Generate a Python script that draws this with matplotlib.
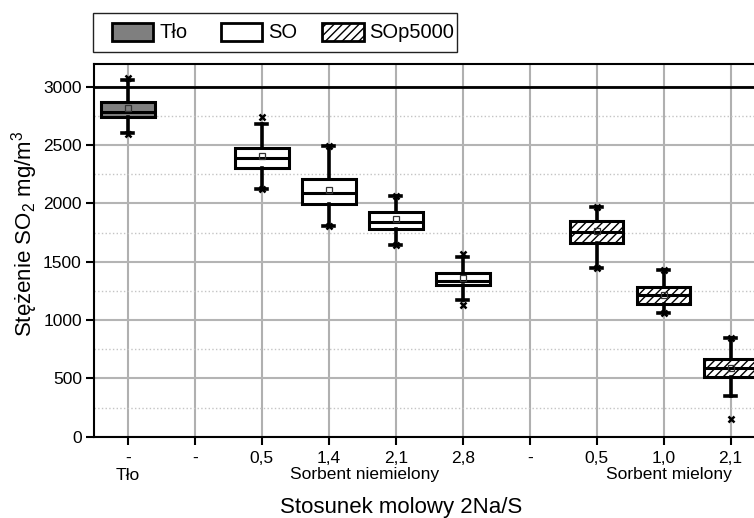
import matplotlib
matplotlib.use("Agg")
import matplotlib.pyplot as plt
from matplotlib.patches import Rectangle
from matplotlib.ticker import MultipleLocator

plt.rcParams['font.family'] = ['Liberation Sans', 'DejaVu Sans']
plt.rcParams['mathtext.fontset'] = 'custom'
plt.rcParams['mathtext.rm'] = 'Liberation Sans'
plt.rcParams['mathtext.it'] = 'Liberation Sans'
plt.rcParams['mathtext.default'] = 'regular'
plt.rcParams['hatch.linewidth'] = 1.0

# ---------------- data ----------------
tick_labels = ['-', '-', '0,5', '1,4', '2,1', '2,8', '-', '0,5', '1,0', '2,1']
group_labels = ['Tło', 'Sorbent niemielony', 'Sorbent mielony']
group_centers = [0, 3.53, 8.08]
series_names = ['Tło', 'SO', 'SOp5000']
positions = [0, 2, 3, 4, 5, 7, 8, 9]
series = ['Tło', 'SO', 'SO', 'SO', 'SO', 'SOp5000', 'SOp5000', 'SOp5000']
q1 = [2740, 2305, 1995, 1780, 1297, 1664, 1138, 514]
med = [2780, 2386, 2092, 1838, 1334, 1755, 1215, 592]
q3 = [2872, 2472, 2206, 1923, 1400, 1846, 1285, 666]
mean = [2815, 2406, 2115, 1863, 1357, 1760, 1215, 592]
whislo = [2603, 2125, 1808, 1643, 1170, 1443, 1057, 350]
whishi = [3060, 2680, 2495, 2066, 1543, 1972, 1429, 849]
vmin = [2598, 2125, 1808, 1643, 1127, 1443, 1057, 150]
vmax = [3075, 2742, 2495, 2066, 1566, 1972, 1429, 849]
limit = 3000

# ---------------- styles ----------------
face = {'Tło': '#7f7f7f', 'SO': 'white', 'SOp5000': 'white'}
hatch = {'Tło': None, 'SO': None, 'SOp5000': '////'}

W, H = 754, 518
fig = plt.figure(figsize=(W / 100, H / 100), dpi=100)
ax_l, ax_r, ax_t, ax_b = 94.3, 754, 64, 436.7
ax = fig.add_axes([ax_l / W, (H - ax_b) / H, (ax_r - ax_l) / W, (ax_b - ax_t) / H])

stats = []
for i in range(len(positions)):
    stats.append(dict(q1=q1[i], med=med[i], q3=q3[i], mean=mean[i],
                      whislo=whislo[i], whishi=whishi[i],
                      fliers=[vmin[i], vmax[i]]))

bp = ax.bxp(stats, positions=positions, widths=0.8, patch_artist=True,
            showmeans=True, capwidths=0.16,
            boxprops=dict(linewidth=2.2, edgecolor='black'),
            medianprops=dict(color='black', linewidth=2.2),
            whiskerprops=dict(color='black', linewidth=2.6),
            capprops=dict(color='black', linewidth=2.6),
            flierprops=dict(marker='x', markersize=5, markeredgewidth=1.8,
                            markeredgecolor='black'),
            meanprops=dict(marker='s', markersize=4, markerfacecolor='none',
                           markeredgecolor='#333333', markeredgewidth=0.9))
for box, s in zip(bp['boxes'], series):
    box.set_facecolor(face[s])
    if hatch[s]:
        box.set_hatch(hatch[s])
for z in bp['boxes']:
    z.set_zorder(3)
for k in ('medians', 'whiskers', 'caps', 'fliers', 'means'):
    for a in bp[k]:
        a.set_zorder(4)

ax.axhline(limit, color='black', linewidth=2, zorder=2.5)

ax.set_xlim(-0.5, 9 + (754 - 730.7) / 66.9)
ax.set_ylim(0, 3195)
ax.set_xticks(range(len(tick_labels)))
ax.set_xticklabels(tick_labels)
ax.yaxis.set_major_locator(MultipleLocator(500))
ax.yaxis.set_minor_locator(MultipleLocator(250))
ax.tick_params(axis='both', which='major', direction='out', length=5.5, width=1.5,
               labelsize=12.5, color='black')
ax.tick_params(axis='x', pad=5)
ax.tick_params(axis='y', which='minor', length=0)

ax.grid(axis='x', which='major', color='#b0b0b0', linewidth=1.5, zorder=0)
ax.grid(axis='y', which='major', color='#b4b4b4', linewidth=1.5, zorder=0)
ax.grid(axis='y', which='minor', color='#c4c4c4', linewidth=1.0, linestyle=':', zorder=0)
ax.set_axisbelow(True)

for sp in ('top', 'left', 'bottom'):
    ax.spines[sp].set_linewidth(1.5)
    ax.spines[sp].set_color('black')
ax.spines['right'].set_visible(False)

for lab, c in zip(group_labels, group_centers):
    ax.annotate(lab, xy=(c, 0), xycoords=('data', 'axes fraction'),
                xytext=(0, -(475 - ax_b) * 0.72), textcoords='offset points',
                ha='center', va='center', fontsize=12.5)

fig.text(401 / W, 1 - 507 / H, 'Stosunek molowy 2Na/S', ha='center', va='center',
         fontsize=16)
fig.text(25 / W, 1 - 234 / H, 'Stężenie SO$_2$ mg/m$^3$', ha='center', va='center',
         rotation=90, fontsize=16)

# ---------------- legend (drawn in figure pixel space) ----------------
def fx(x):
    return x / W

def fy(y):
    return 1 - y / H

fig.add_artist(Rectangle((fx(93), fy(52)), fx(457) - fx(93), fy(13) - fy(52),
                         transform=fig.transFigure, facecolor='white',
                         edgecolor='#222222', linewidth=1.0))
leg_patch_x = [111.7, 220.5, 322.3]
leg_text_x = [159, 268, 369]
for s, px, tx in zip(series_names, leg_patch_x, leg_text_x):
    fig.add_artist(Rectangle((fx(px), fy(41)), fx(px + 41.5) - fx(px), fy(23.3) - fy(41),
                             transform=fig.transFigure, facecolor=face[s],
                             hatch=hatch[s], edgecolor='black', linewidth=2.0))
    fig.text(fx(tx), fy(32), s, ha='left', va='center', fontsize=14.5)

fig.savefig('out.png', dpi=100)
